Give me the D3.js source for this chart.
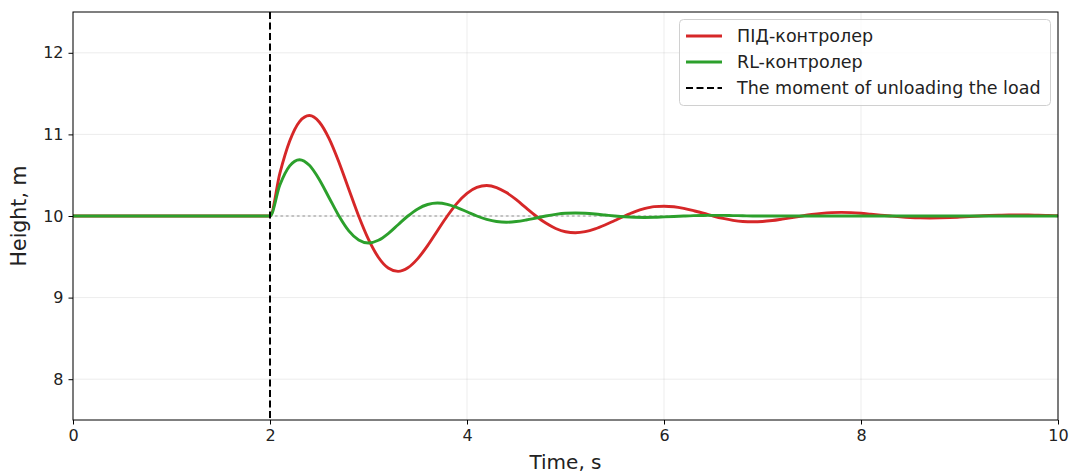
<!DOCTYPE html>
<html><head><meta charset="utf-8">
<script src="https://cdn.jsdelivr.net/npm/d3@7"></script>
<style>body{margin:0;background:#fff}svg{display:block}text{font-family:"DejaVu Sans",sans-serif;fill:#222}</style>
</head><body><svg id="c" width="1070" height="475"></svg>
<script>
// time samples (s)
const timeBefore = [0, 2];
const levelBefore = [10, 10];
const timeAfterStart = 2;
const timeStep = 0.1;
const pidValues = [10.000,10.522,10.918,11.157,11.231,11.152,10.948,10.659,10.328,10.000,
  9.713,9.495,9.363,9.322,9.366,9.478,9.637,9.820,10.000,10.158,
  10.278,10.350,10.373,10.349,10.287,10.200,10.099,10.000,9.913,9.847,
  9.807,9.795,9.808,9.842,9.890,9.945,10.000,10.050,10.090,10.115,
  10.120,10.113,10.093,10.065,10.035,10.000,9.970,9.947,9.933,9.929,
  9.933,9.945,9.962,9.980,10.000,10.018,10.032,10.041,10.044,10.041,
  10.033,10.022,10.011,10.000,9.990,9.982,9.977,9.975,9.977,9.981,
  9.987,9.994,10.000,10.006,10.010,10.013,10.013,10.012,10.010,10.007,10.003];
const rlValues = [10.000,10.379,10.614,10.690,10.621,10.448,10.224,10.000,9.818,9.706,
  9.669,9.702,9.785,9.893,10.000,10.087,10.141,10.159,10.143,10.103,
  10.052,10.000,9.958,9.932,9.924,9.932,9.951,9.975,10.000,10.020,
  10.033,10.036,10.033,10.024,10.012,10.000,9.990,9.984,9.982,9.984,
  9.989,9.994,10.000,10.005,10.007,10.008,10.008,10.005,10.003,10.000,
  10.000,10.000,10.000,10.000,10.000,10.000,10.000,10.000,10.000,10.000,
  10.000,10.000,10.000,10.000,10.000,10.000,10.000,10.000,10.000,10.000,
  10.000,10.000,10.000,10.000,10.000,10.000,10.000,10.000,10.000,10.000,10.000];
const setpointTime = [2, 10];
const setpointValue = [10, 10];
const unloadTime = 2;
const xTicks = [0, 2, 4, 6, 8, 10];
const yTicks = [8, 9, 10, 11, 12];
const legendLabels = ["ПІД-контролер", "RL-контролер", "The moment of unloading the load"];
const colors = {pid: "#d62728", rl: "#2ca02c"};

const svg = d3.select("#c");
const L = 73, R = 1058, T = 12, B = 420;
const x = d3.scaleLinear().domain([0, 10]).range([L, R]);
const y = d3.scaleLinear().domain([7.5, 12.5]).range([B, T]);

function series(vals) {
  const pts = timeBefore.map((t, i) => [t, levelBefore[i]]);
  vals.forEach((v, i) => pts.push([timeAfterStart + i * timeStep, v]));
  return pts;
}

// grid
const g = svg.append("g");
g.selectAll(".gx").data(xTicks).join("line")
  .attr("x1", d => x(d)).attr("x2", d => x(d)).attr("y1", T).attr("y2", B)
  .attr("stroke", "#b0b0b0").attr("stroke-opacity", 0.3).attr("stroke-width", 0.8);
g.selectAll(".gy").data(yTicks).join("line")
  .attr("y1", d => y(d)).attr("y2", d => y(d)).attr("x1", L).attr("x2", R)
  .attr("stroke", "#b0b0b0").attr("stroke-opacity", 0.3).attr("stroke-width", 0.8);

// setpoint dotted
svg.append("line")
  .attr("x1", x(setpointTime[0])).attr("x2", x(setpointTime[1]))
  .attr("y1", y(setpointValue[0])).attr("y2", y(setpointValue[1]))
  .attr("stroke", "#999").attr("stroke-opacity", 0.75).attr("stroke-width", 1.6)
  .attr("stroke-dasharray", "1.5,4").attr("stroke-linecap", "round");

const line = d3.line().x(d => x(d[0])).y(d => y(d[1])).curve(d3.curveMonotoneX);
svg.append("clipPath").attr("id", "cp").append("rect")
  .attr("x", L).attr("y", T).attr("width", R - L).attr("height", B - T);
svg.append("path").datum(series(pidValues)).attr("d", line)
  .attr("fill", "none").attr("stroke", colors.pid).attr("stroke-width", 2.9).attr("clip-path", "url(#cp)");
svg.append("path").datum(series(rlValues)).attr("d", line)
  .attr("fill", "none").attr("stroke", colors.rl).attr("stroke-width", 2.9).attr("clip-path", "url(#cp)");

// unload line
svg.append("line").attr("x1", x(unloadTime)).attr("x2", x(unloadTime)).attr("y1", T).attr("y2", B)
  .attr("stroke", "#000").attr("stroke-width", 2).attr("stroke-dasharray", "7,3.5");

// axes
const xa = svg.append("g").attr("transform", `translate(0,${B})`)
  .call(d3.axisBottom(x).tickValues(xTicks).tickFormat(d3.format("d")).tickSize(4.5).tickPadding(5));
const ya = svg.append("g").attr("transform", `translate(${L},0)`)
  .call(d3.axisLeft(y).tickValues(yTicks).tickFormat(d3.format("d")).tickSize(4.5).tickPadding(5));
[xa, ya].forEach(a => {
  a.select(".domain").remove();
  a.selectAll("line").attr("stroke", "#000").attr("stroke-width", 1);
  a.selectAll("text").attr("font-size", 16).attr("fill", "#222").style("font-family", "DejaVu Sans");
});
svg.append("rect").attr("x", L).attr("y", T).attr("width", R - L).attr("height", B - T)
  .attr("fill", "none").attr("stroke", "#000").attr("stroke-width", 1);

svg.append("text").attr("x", (L + R) / 2).attr("y", 469).attr("text-anchor", "middle")
  .attr("font-size", 20).text("Time, s");
svg.append("text").attr("transform", `translate(26,${(T + B) / 2}) rotate(-90)`)
  .attr("text-anchor", "middle").attr("font-size", 20.5).text("Height, m");

// legend
const lg = svg.append("g");
lg.append("rect").attr("x", 679.5).attr("y", 19.5).attr("width", 371).attr("height", 86).attr("rx", 4)
  .attr("fill", "#fff").attr("fill-opacity", 0.8).attr("stroke", "#d0d0d0").attr("stroke-width", 1);
const lstyles = [
  {c: colors.pid, w: 2.9, dash: null},
  {c: colors.rl, w: 2.9, dash: null},
  {c: "#000", w: 2, dash: "7,3.5"}];
legendLabels.forEach((t, i) => {
  const yy = 36 + i * 26;
  const ln = lg.append("line").attr("x1", 686).attr("x2", 722).attr("y1", yy).attr("y2", yy)
    .attr("stroke", lstyles[i].c).attr("stroke-width", lstyles[i].w);
  if (lstyles[i].dash) ln.attr("stroke-dasharray", lstyles[i].dash);
  lg.append("text").attr("x", 737).attr("y", yy + 6).attr("font-size", 17.5).text(t);
});
</script></body></html>
